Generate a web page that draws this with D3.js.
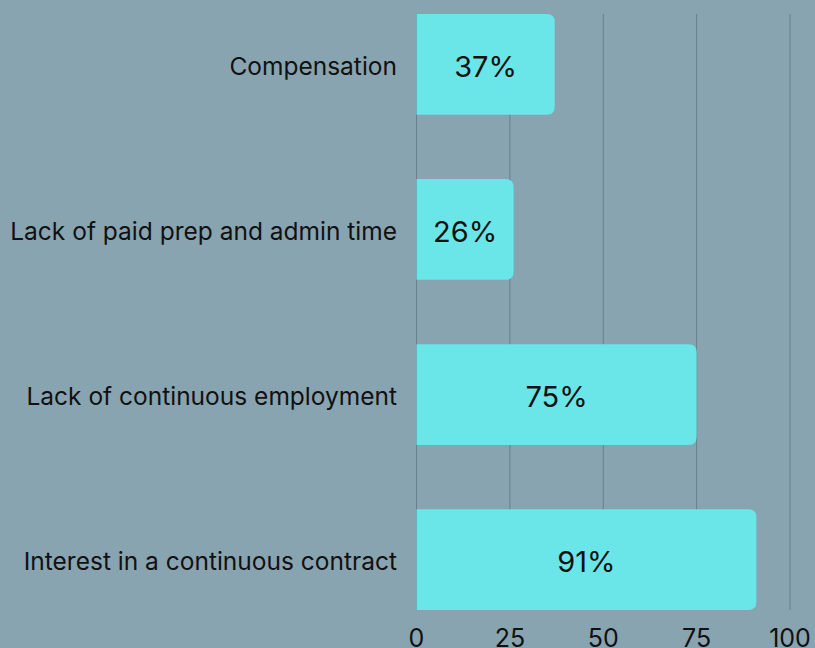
<!DOCTYPE html>
<html>
<head>
<meta charset="utf-8">
<script src="https://cdn.jsdelivr.net/npm/d3@7"></script>
<style>
  html, body { margin: 0; padding: 0; background: #88a4b0; }
  svg { display: block; }
</style>
</head>
<body>
<div id="chart"></div>
<script>
// Data
const categories = [
  "Compensation",
  "Lack of paid prep and admin time",
  "Lack of continuous employment",
  "Interest in a continuous contract"
];
const values = [37, 26, 75, 91];
const tickValues = [0, 25, 50, 75, 100];

const width = 815;
const height = 648;

const svg = d3.select("#chart")
  .append("svg")
  .attr("width", width)
  .attr("height", height);

const x = d3.scaleLinear()
  .domain([0, 100])
  .range([416.5, 790]);

const y = d3.scaleBand()
  .domain(categories)
  .range([14, 610])
  .paddingInner(0.39)
  .paddingOuter(0);

// Grid lines
svg.append("g")
  .selectAll("line")
  .data(tickValues)
  .enter()
  .append("line")
  .attr("x1", d => x(d))
  .attr("x2", d => x(d))
  .attr("y1", 14)
  .attr("y2", 610)
  .attr("stroke", "#66808c")
  .attr("stroke-width", 1);

// Bars with rounded right corners
const r = 8;
function barPath(d, i) {
  const x0 = x(0), x1 = x(d), y0 = y(categories[i]), h = y.bandwidth();
  return `M${x0},${y0} H${x1 - r} Q${x1},${y0} ${x1},${y0 + r} V${y0 + h - r} Q${x1},${y0 + h} ${x1 - r},${y0 + h} H${x0} Z`;
}

svg.append("g")
  .selectAll("path")
  .data(values)
  .enter()
  .append("path")
  .attr("d", barPath)
  .attr("fill", "#6ae5e8");

// Value labels
svg.append("g")
  .selectAll("text")
  .data(values)
  .enter()
  .append("text")
  .attr("x", d => (x(0) + x(d)) / 2)
  .attr("y", (d, i) => y(categories[i]) + y.bandwidth() / 2 + 2)
  .attr("dy", "0.35em")
  .attr("text-anchor", "middle")
  .style("font-family", "Inter, 'Open Sans', sans-serif")
  .style("font-size", "29px")
  .style("fill", "#111")
  .text(d => d + "%");

// Category labels
svg.append("g")
  .selectAll("text")
  .data(categories)
  .enter()
  .append("text")
  .attr("x", 397)
  .attr("y", d => y(d) + y.bandwidth() / 2 + 2)
  .attr("dy", "0.35em")
  .attr("text-anchor", "end")
  .style("font-family", "Inter, 'Open Sans', sans-serif")
  .style("font-size", "24.5px")
  .style("fill", "#111")
  .text(d => d);

// X axis tick labels
svg.append("g")
  .selectAll("text")
  .data(tickValues)
  .enter()
  .append("text")
  .attr("x", d => x(d))
  .attr("y", 647)
  .attr("text-anchor", "middle")
  .style("font-family", "Inter, 'Open Sans', sans-serif")
  .style("font-size", "25px")
  .style("fill", "#111")
  .text(d => d);
</script>
</body>
</html>
